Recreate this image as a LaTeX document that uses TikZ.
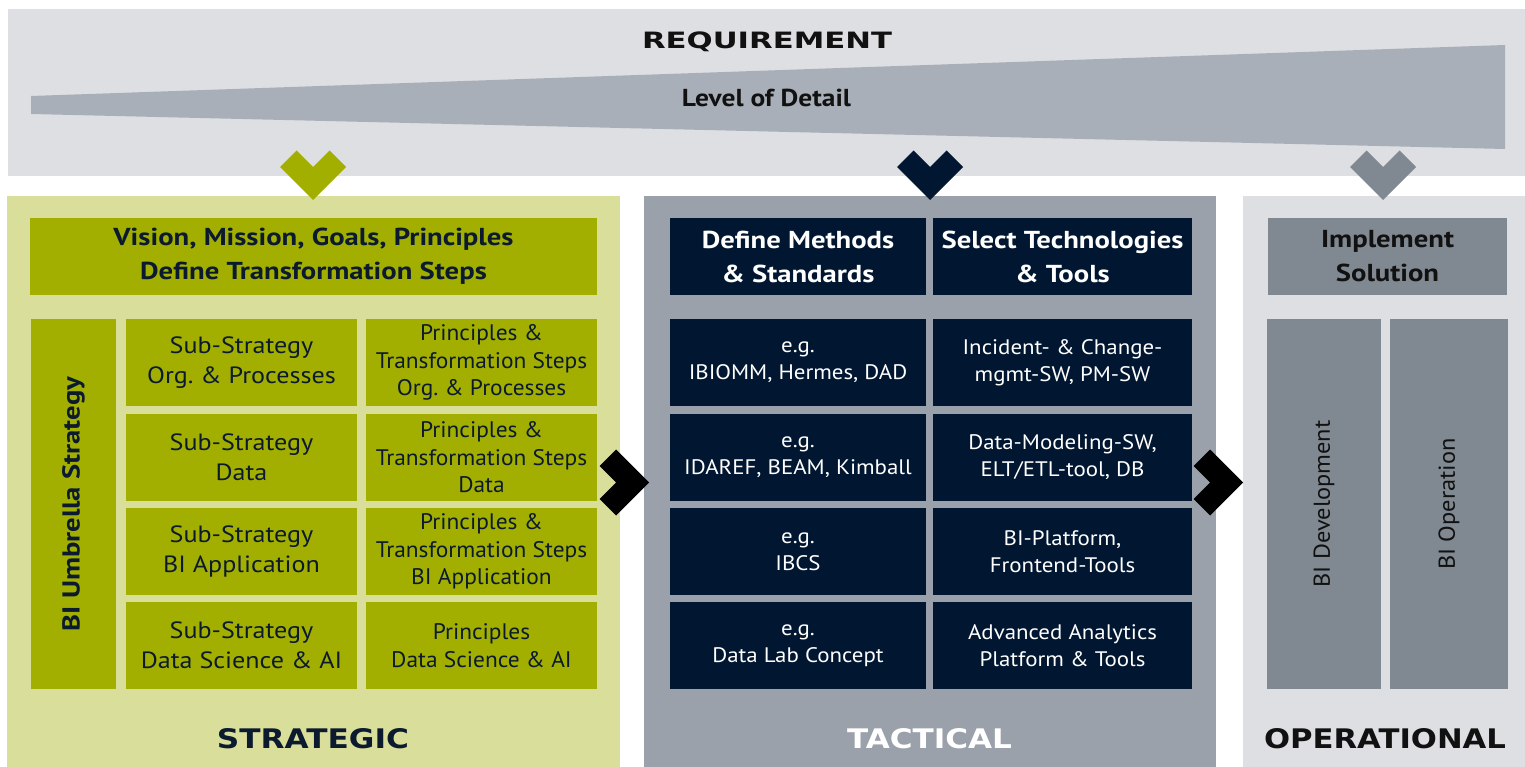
\documentclass[tikz,border=0pt]{standalone}
\usepackage{fontspec}
\usepackage{graphicx}
\setmainfont{PT Sans}
\newfontfamily\titlefont{DejaVu Sans}
\definecolor{bandbg}{HTML}{DEDFE3}
\definecolor{wedgec}{HTML}{A9AFB8}
\definecolor{olive}{HTML}{A2AF00}
\definecolor{olivebg}{HTML}{D9DE9B}
\definecolor{tacbg}{HTML}{9AA1AA}
\definecolor{navy}{HTML}{011630}
\definecolor{opbox}{HTML}{808891}
\definecolor{ink}{HTML}{0B1A2E}
\definecolor{blk}{HTML}{111111}
\newcommand{\wtitle}[3]{\resizebox{#1pt}{#2pt}{\titlefont\bfseries #3}}
\newcommand{\bwide}[2]{\bfseries\fontsize{#1}{#2}\selectfont\addfontfeature{FakeStretch=1.17}}
\newcommand{\rwide}[3]{\fontsize{#1}{#2}\selectfont\addfontfeature{FakeStretch=#3}}
\tikzset{
  sz/.style 2 args={minimum width=#1pt, minimum height=#2pt},
  basebox/.style={inner sep=0pt, outer sep=0pt, align=center, draw=none},
  shdr/.style={basebox, fill=olive, text=ink, font=\bwide{24.5}{34}},
  sbox/.style={basebox, fill=olive, text=ink, font=\rwide{23.5}{30}{1.11}},
  pbox/.style={basebox, fill=olive, text=ink, font=\rwide{22.5}{27.5}{1.04}},
  thdr/.style={basebox, fill=navy, text=white, font=\bwide{24.5}{34}},
  tbox/.style={basebox, fill=navy, text=white, font=\rwide{21}{27}{1.09}},
  ohdr/.style={basebox, fill=opbox, text=blk, font=\bwide{24.5}{34}},
  obox/.style={basebox, fill=opbox, text=blk, font=\rwide{23}{28}{1.06}},
  chev/.style={fill=#1, draw=none},
}
\begin{document}
\begin{tikzpicture}[x=1pt,y=-1pt]
\useasboundingbox (0,0) rectangle (1525,767);
% top band
\fill[bandbg] (8,9) rectangle (1525,176);
\fill[wedgec] (31,96) -- (1505,45) -- (1505,149) -- (31,114) -- cycle;
\node[anchor=base, text=blk] (req) at (767,49) {\wtitle{250}{16.7}{REQUIREMENT}};
\node[anchor=base, text=blk, font=\bfseries\fontsize{24.5}{30}\selectfont\addfontfeature{FakeStretch=1.12}] (lod) at (766.5,107) {Level of Detail};
% panels
\fill[olivebg] (7,196) rectangle (620,767);
\fill[tacbg] (644,196) rectangle (1216,767);
\fill[bandbg] (1243,196) rectangle (1525,767);
% down chevrons
\foreach \cx/\col in {313/olive, 930/navy, 1383/opbox}{
  \fill[chev=\col] (\cx-33,167) -- (\cx-16.5,150.5) -- (\cx,167) -- (\cx+16.5,150.5) -- (\cx+33,167) -- (\cx,200) -- cycle;
}
% strategic
\node[shdr, sz={567}{77}] (hdrS) at (313.5,256.5) {Vision, Mission, Goals, Principles\\Define Transformation Steps};
\node[shdr, sz={370}{85}, rotate=90] (umb) at (73.5,504) {BI Umbrella Strategy};
\node[sbox, sz={231}{87}] (ss1) at (241.5,362.5) {Sub-Strategy\\Org.\ \& Processes};
\node[sbox, sz={231}{87}] (ss2) at (241.5,457.5) {Sub-Strategy\\Data};
\node[sbox, sz={231}{87}] (ss3) at (241.5,551.5) {Sub-Strategy\\BI Application};
\node[sbox, sz={231}{87}] (ss4) at (241.5,645.5) {Sub-Strategy\\Data Science \& AI};
\node[pbox, sz={231}{87}] (pr1) at (481.5,362.5) {Principles \&\\Transformation Steps\\Org.\ \& Processes};
\node[pbox, sz={231}{87}] (pr2) at (481.5,457.5) {Principles \&\\Transformation Steps\\Data};
\node[pbox, sz={231}{87}] (pr3) at (481.5,551.5) {Principles \&\\Transformation Steps\\BI Application};
\node[pbox, sz={231}{87}] (pr4) at (481.5,645.5) {Principles\\Data Science \& AI};
\node[anchor=base, text=ink] (strat) at (313,748) {\wtitle{192}{20}{STRATEGIC}};
% tactical
\node[thdr, sz={256}{77}] (hdrM) at (798,256.5) {Define Methods\\\& Standards};
\node[thdr, sz={259}{77}] (hdrT) at (1062.5,256.5) {Select Technologies\\\& Tools};
\node[tbox, sz={256}{87}] (m1) at (798,362.5) {e.g.\\IBIOMM, Hermes, DAD};
\node[tbox, sz={256}{87}] (m2) at (798,457.5) {e.g.\\IDAREF, BEAM, Kimball};
\node[tbox, sz={256}{87}] (m3) at (798,551.5) {e.g.\\IBCS};
\node[tbox, sz={256}{87}] (m4) at (798,645.5) {e.g.\\Data Lab Concept};
\node[tbox, sz={259}{87}] (t1) at (1062.5,362.5) {Incident- \& Change-\\mgmt-SW, PM-SW};
\node[tbox, sz={259}{87}] (t2) at (1062.5,457.5) {Data-Modeling-SW,\\ELT/ETL-tool, DB};
\node[tbox, sz={259}{87}] (t3) at (1062.5,551.5) {BI-Platform,\\Frontend-Tools};
\node[tbox, sz={259}{87}] (t4) at (1062.5,645.5) {Advanced Analytics\\Platform \& Tools};
\node[anchor=base, text=white] (tact) at (929.5,748) {\wtitle{165}{20}{TACTICAL}};
% operational
\node[ohdr, sz={239}{77}] (hdrI) at (1387.5,256.5) {Implement\\Solution};
\node[obox, sz={370}{114}, rotate=90] (dev) at (1324,504) {BI Development};
\node[obox, sz={370}{118}, rotate=90] (ope) at (1449,504) {BI Operation};
\node[anchor=base, text=blk] (oper) at (1385,748) {\wtitle{242}{20}{OPERATIONAL}};
% right arrows
\foreach \nx in {616, 1210}{
  \fill[chev=black] (\nx-16.5,466) -- (\nx,449.5) -- (\nx+33,482.5) -- (\nx,515.5) -- (\nx-16.5,499) -- (\nx,482.5) -- cycle;
}
\end{tikzpicture}
\end{document}
